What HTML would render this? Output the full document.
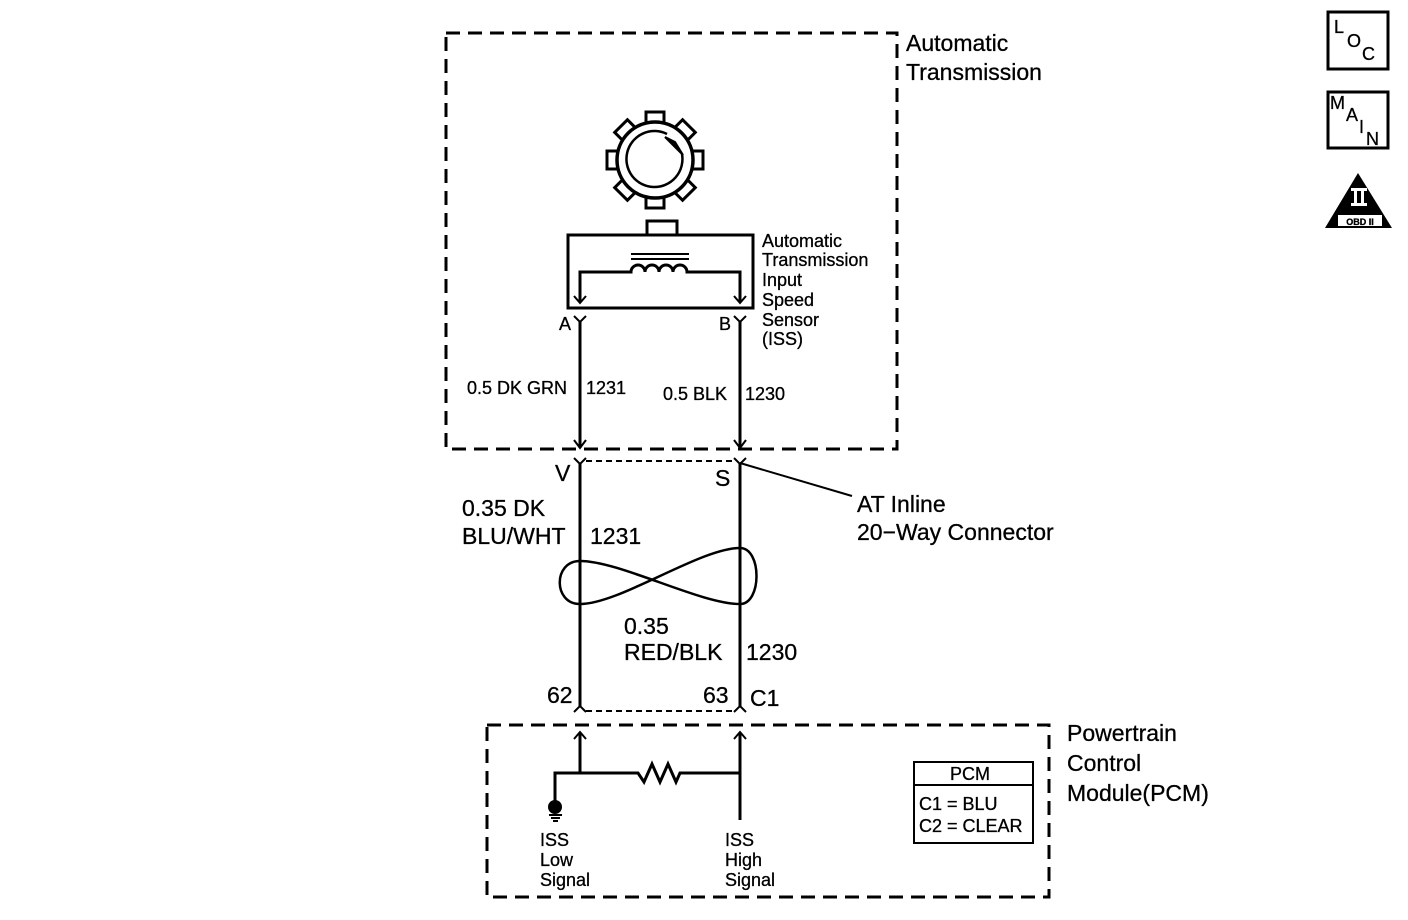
<!DOCTYPE html>
<html><head><style>body{margin:0;background:#fff}svg{display:block}text{font-family:"Liberation Sans",sans-serif;fill:#000;stroke:#000;stroke-width:0.3}</style></head><body>
<svg width="1408" height="920" viewBox="0 0 1408 920" xmlns="http://www.w3.org/2000/svg">
<g fill="none" stroke="#000" stroke-width="3">
<rect x="446" y="33" width="451" height="416" stroke-dasharray="14,8"/>
<rect x="487" y="725" width="562" height="172" stroke-dasharray="14,8"/>
</g>
<!-- gear -->
<g stroke="#000" stroke-width="3" fill="#fff">
<g transform="translate(655,160)">
<rect x="-9" y="-48" width="18" height="13" transform="rotate(0)"/>
<rect x="-9" y="-48" width="18" height="13" transform="rotate(45)"/>
<rect x="-9" y="-48" width="18" height="13" transform="rotate(90)"/>
<rect x="-9" y="-48" width="18" height="13" transform="rotate(135)"/>
<rect x="-9" y="-48" width="18" height="13" transform="rotate(180)"/>
<rect x="-9" y="-48" width="18" height="13" transform="rotate(225)"/>
<rect x="-9" y="-48" width="18" height="13" transform="rotate(270)"/>
<rect x="-9" y="-48" width="18" height="13" transform="rotate(315)"/>
<circle r="38" stroke-width="3.5"/>
<path d="M12,-26 A28,28 0 1 0 27,-6" fill="none" stroke-width="2.5"/>
<path d="M10,-23 L28,-5 L20,-18 Z" fill="#000" stroke-width="2"/>
</g>
</g>
<g fill="none" stroke="#000" stroke-width="3">
<rect x="647" y="221" width="30" height="14"/>
<rect x="568" y="235" width="185" height="73"/>
<line x1="631" y1="254" x2="689" y2="254" stroke-width="2"/>
<line x1="631" y1="259" x2="689" y2="259" stroke-width="2"/>
<path d="M580,302 V272 H631 a7,7 0 0 1 14,0 a7,7 0 0 1 14,0 a7,7 0 0 1 14,0 a7,7 0 0 1 14,0 H740 V302"/>
<path d="M574,296 l6,7 l6,-7 M734,296 l6,7 l6,-7" stroke-width="2"/>
<path d="M574,316 l6,6 l6,-6 M734,316 l6,6 l6,-6" stroke-width="2"/>
<line x1="580" y1="321" x2="580" y2="448"/>
<line x1="740" y1="321" x2="740" y2="448"/>
<path d="M574,440 l6,8 l6,-8 M734,440 l6,8 l6,-8" stroke-width="2"/>
<path d="M574,458 l6,6 l6,-6 M734,458 l6,6 l6,-6" stroke-width="2"/>
<line x1="586" y1="461" x2="734" y2="461" stroke-dasharray="6,4" stroke-width="2"/>
<line x1="580" y1="463" x2="580" y2="706"/>
<line x1="740" y1="463" x2="740" y2="706"/>
<line x1="740" y1="463" x2="852" y2="496" stroke-width="2"/>
<path d="M574,712 l6,-6 l6,6 M734,712 l6,-6 l6,6" stroke-width="2"/>
<line x1="586" y1="711" x2="734" y2="711" stroke-dasharray="6,4" stroke-width="2"/>
<path d="M580,561 C620,561 700,604 740,604 C762,604 762,548 740,548 C700,548 620,604 580,604 C553,604 553,561 580,561 Z" stroke-width="2.5"/>
<path d="M574,739 l6,-7 l6,7 M734,739 l6,-7 l6,7" stroke-width="2"/>
<line x1="580" y1="733" x2="580" y2="773"/>
<line x1="740" y1="733" x2="740" y2="820"/>
<path d="M555,802 V773 H638 l6,9 l8,-18 l8,18 l8,-18 l8,18 l4,-9 H740"/>
<line x1="549" y1="815" x2="562" y2="815" stroke-width="2"/>
<line x1="551" y1="818" x2="560" y2="818" stroke-width="2"/>
<line x1="553" y1="821" x2="558" y2="821" stroke-width="2"/>
<rect x="914" y="762" width="119" height="81" stroke-width="2"/>
<line x1="914" y1="785" x2="1033" y2="785" stroke-width="2"/>
<rect x="1328" y="12" width="60" height="57"/>
<rect x="1328" y="92" width="60" height="56"/>
</g>
<circle cx="555" cy="807" r="7" fill="#000"/>
<path d="M1358,173 L1392,228 L1325,228 Z" fill="#000"/>
<rect x="1338" y="215" width="44" height="11" fill="#fff"/>
<rect x="1351" y="188" width="16" height="3" fill="#fff"/>
<rect x="1351" y="203" width="16" height="3" fill="#fff"/>
<rect x="1354" y="190" width="3" height="14" fill="#fff"/>
<rect x="1361" y="190" width="3" height="14" fill="#fff"/>
<text x="1360" y="225" font-size="9" text-anchor="middle" font-weight="bold">OBD II</text>
<g font-size="18"><text x="1334" y="33">L</text><text x="1347" y="47">O</text><text x="1362" y="60">C</text>
<text x="1330" y="109">M</text><text x="1346" y="121">A</text><text x="1359" y="133">I</text><text x="1366" y="145">N</text></g>
<g font-size="23">
<text x="906" y="51">Automatic</text><text x="906" y="80">Transmission</text>
<text x="555" y="481">V</text><text x="715" y="486">S</text>
<text x="857" y="512">AT Inline</text><text x="857" y="540">20−Way Connector</text>
<text x="462" y="516">0.35 DK</text><text x="462" y="544">BLU/WHT</text><text x="590" y="544">1231</text>
<text x="624" y="634">0.35</text><text x="624" y="660">RED/BLK</text><text x="746" y="660">1230</text>
<text x="547" y="703">62</text><text x="703" y="703">63</text><text x="750" y="706">C1</text>
<text x="1067" y="741">Powertrain</text><text x="1067" y="771">Control</text><text x="1067" y="801">Module(PCM)</text>
</g>
<g font-size="18">
<text x="762" y="247">Automatic</text><text x="762" y="266">Transmission</text><text x="762" y="286">Input</text><text x="762" y="306">Speed</text><text x="762" y="326">Sensor</text><text x="762" y="345">(ISS)</text>
<text x="559" y="330">A</text><text x="719" y="330">B</text>
<text x="467" y="394">0.5 DK GRN</text><text x="586" y="394">1231</text>
<text x="663" y="400">0.5 BLK</text><text x="745" y="400">1230</text>
<text x="540" y="846">ISS</text><text x="540" y="866">Low</text><text x="540" y="886">Signal</text>
<text x="725" y="846">ISS</text><text x="725" y="866">High</text><text x="725" y="886">Signal</text>
<text x="950" y="780">PCM</text><text x="919" y="810">C1 = BLU</text><text x="919" y="832">C2 = CLEAR</text>
</g>
</svg>
</body></html>
